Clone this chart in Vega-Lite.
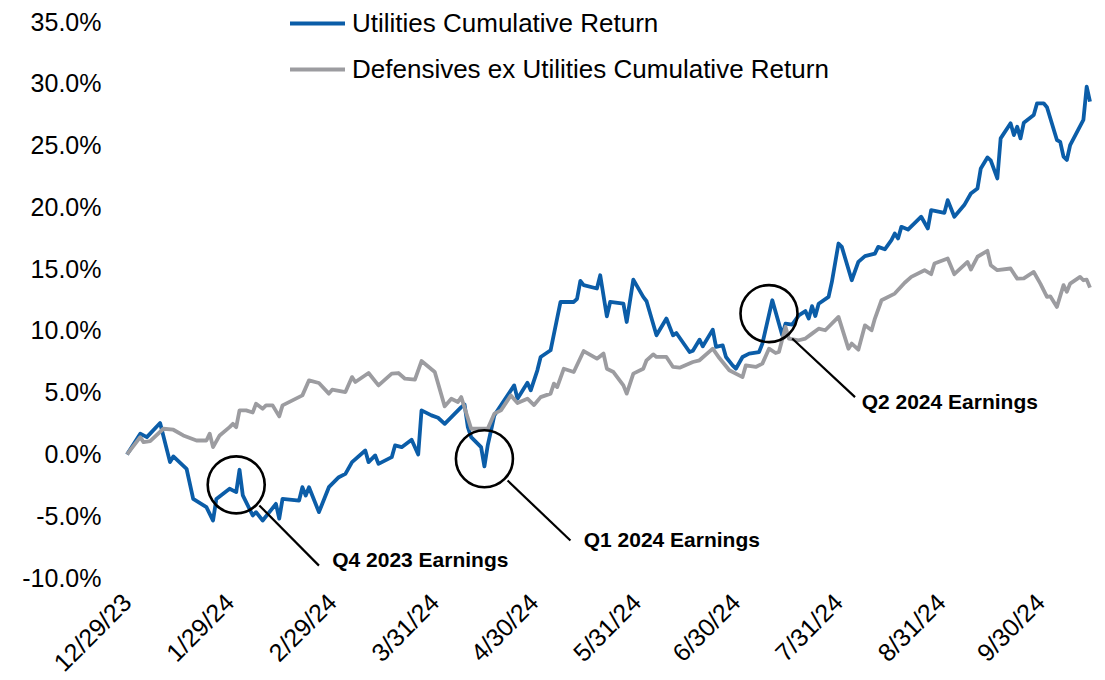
{
  "$schema": "https://vega.github.io/schema/vega-lite/v6.json",
  "width": 963,
  "height": 556,
  "autosize": "none",
  "padding": {"left": 127, "top": 22, "right": 15, "bottom": 102},
  "background": "white",
  "config": {
    "view": {"stroke": null},
    "font": "Liberation Sans"
  },
  "datasets": {
    "utilities": [
      {"date": "2023-12-29", "value": 0},
      {"date": "2024-01-02", "value": 1.68},
      {"date": "2024-01-04", "value": 1.4},
      {"date": "2024-01-08", "value": 2.54},
      {"date": "2024-01-11", "value": -0.62},
      {"date": "2024-01-12", "value": -0.16},
      {"date": "2024-01-16", "value": -1.16},
      {"date": "2024-01-18", "value": -3.6},
      {"date": "2024-01-22", "value": -4.27},
      {"date": "2024-01-24", "value": -5.35},
      {"date": "2024-01-25", "value": -3.6},
      {"date": "2024-01-29", "value": -2.78},
      {"date": "2024-01-31", "value": -3.05},
      {"date": "2024-02-01", "value": -1.24},
      {"date": "2024-02-02", "value": -3.32},
      {"date": "2024-02-05", "value": -4.94},
      {"date": "2024-02-06", "value": -4.67},
      {"date": "2024-02-08", "value": -5.35},
      {"date": "2024-02-12", "value": -4.0},
      {"date": "2024-02-13", "value": -5.2},
      {"date": "2024-02-14", "value": -3.6},
      {"date": "2024-02-19", "value": -3.73},
      {"date": "2024-02-20", "value": -2.65},
      {"date": "2024-02-21", "value": -3.32},
      {"date": "2024-02-22", "value": -2.65},
      {"date": "2024-02-25", "value": -4.67},
      {"date": "2024-02-28", "value": -2.65},
      {"date": "2024-03-02", "value": -1.84},
      {"date": "2024-03-04", "value": -1.57},
      {"date": "2024-03-06", "value": -0.62},
      {"date": "2024-03-10", "value": 0.32},
      {"date": "2024-03-11", "value": -0.62},
      {"date": "2024-03-13", "value": -0.08},
      {"date": "2024-03-14", "value": -0.76},
      {"date": "2024-03-18", "value": -0.22},
      {"date": "2024-03-19", "value": 0.73},
      {"date": "2024-03-21", "value": 0.59},
      {"date": "2024-03-24", "value": 1.19},
      {"date": "2024-03-26", "value": 0.0},
      {"date": "2024-03-27", "value": 3.57},
      {"date": "2024-03-30", "value": 3.16},
      {"date": "2024-04-01", "value": 2.97},
      {"date": "2024-04-03", "value": 2.48},
      {"date": "2024-04-08", "value": 3.83},
      {"date": "2024-04-09", "value": 4.05},
      {"date": "2024-04-10", "value": 2.21},
      {"date": "2024-04-11", "value": 1.4},
      {"date": "2024-04-14", "value": 0.59},
      {"date": "2024-04-15", "value": -0.97},
      {"date": "2024-04-16", "value": 0.73},
      {"date": "2024-04-17", "value": 1.94},
      {"date": "2024-04-18", "value": 3.16},
      {"date": "2024-04-20", "value": 3.97},
      {"date": "2024-04-24", "value": 5.59},
      {"date": "2024-04-25", "value": 4.51},
      {"date": "2024-04-28", "value": 5.8},
      {"date": "2024-04-29", "value": 5.19},
      {"date": "2024-05-01", "value": 6.81},
      {"date": "2024-05-02", "value": 7.89},
      {"date": "2024-05-05", "value": 8.43},
      {"date": "2024-05-08", "value": 12.34},
      {"date": "2024-05-12", "value": 12.34},
      {"date": "2024-05-13", "value": 12.6},
      {"date": "2024-05-14", "value": 14.04},
      {"date": "2024-05-15", "value": 13.7},
      {"date": "2024-05-19", "value": 13.43},
      {"date": "2024-05-20", "value": 14.5},
      {"date": "2024-05-22", "value": 11.18},
      {"date": "2024-05-23", "value": 12.34},
      {"date": "2024-05-27", "value": 12.2},
      {"date": "2024-05-28", "value": 10.72},
      {"date": "2024-05-30", "value": 14.15},
      {"date": "2024-06-02", "value": 12.75},
      {"date": "2024-06-03", "value": 12.4},
      {"date": "2024-06-06", "value": 9.64},
      {"date": "2024-06-09", "value": 11.0},
      {"date": "2024-06-11", "value": 9.64},
      {"date": "2024-06-12", "value": 9.83},
      {"date": "2024-06-16", "value": 8.29},
      {"date": "2024-06-17", "value": 8.4},
      {"date": "2024-06-19", "value": 9.29},
      {"date": "2024-06-20", "value": 8.75},
      {"date": "2024-06-23", "value": 10.1},
      {"date": "2024-06-24", "value": 8.7},
      {"date": "2024-06-26", "value": 8.83},
      {"date": "2024-06-27", "value": 7.89},
      {"date": "2024-06-29", "value": 7.21},
      {"date": "2024-06-30", "value": 6.94},
      {"date": "2024-07-02", "value": 7.89},
      {"date": "2024-07-04", "value": 8.16},
      {"date": "2024-07-07", "value": 8.29},
      {"date": "2024-07-08", "value": 8.97},
      {"date": "2024-07-11", "value": 12.48},
      {"date": "2024-07-14", "value": 9.64},
      {"date": "2024-07-15", "value": 10.59},
      {"date": "2024-07-17", "value": 10.5},
      {"date": "2024-07-19", "value": 11.26},
      {"date": "2024-07-21", "value": 11.6},
      {"date": "2024-07-22", "value": 11.0},
      {"date": "2024-07-23", "value": 12.0},
      {"date": "2024-07-24", "value": 11.2},
      {"date": "2024-07-25", "value": 12.2},
      {"date": "2024-07-28", "value": 12.75},
      {"date": "2024-07-29", "value": 13.96},
      {"date": "2024-07-31", "value": 17.07},
      {"date": "2024-08-01", "value": 16.8},
      {"date": "2024-08-04", "value": 14.1},
      {"date": "2024-08-06", "value": 15.58},
      {"date": "2024-08-08", "value": 16.05},
      {"date": "2024-08-11", "value": 16.26},
      {"date": "2024-08-12", "value": 16.8},
      {"date": "2024-08-14", "value": 16.6},
      {"date": "2024-08-16", "value": 17.34},
      {"date": "2024-08-17", "value": 17.88},
      {"date": "2024-08-18", "value": 17.48},
      {"date": "2024-08-19", "value": 18.42},
      {"date": "2024-08-21", "value": 18.2},
      {"date": "2024-08-25", "value": 19.24},
      {"date": "2024-08-27", "value": 18.29},
      {"date": "2024-08-28", "value": 19.77},
      {"date": "2024-09-01", "value": 19.56},
      {"date": "2024-09-02", "value": 20.58},
      {"date": "2024-09-04", "value": 19.24},
      {"date": "2024-09-07", "value": 20.18},
      {"date": "2024-09-09", "value": 21.12},
      {"date": "2024-09-11", "value": 21.53},
      {"date": "2024-09-12", "value": 23.15},
      {"date": "2024-09-14", "value": 24.04},
      {"date": "2024-09-15", "value": 23.8},
      {"date": "2024-09-17", "value": 22.34},
      {"date": "2024-09-18", "value": 25.58},
      {"date": "2024-09-21", "value": 26.8},
      {"date": "2024-09-22", "value": 25.85},
      {"date": "2024-09-23", "value": 26.52},
      {"date": "2024-09-24", "value": 25.58},
      {"date": "2024-09-25", "value": 26.85},
      {"date": "2024-09-28", "value": 27.47},
      {"date": "2024-09-29", "value": 28.42},
      {"date": "2024-10-01", "value": 28.42},
      {"date": "2024-10-02", "value": 28.1},
      {"date": "2024-10-05", "value": 25.45},
      {"date": "2024-10-06", "value": 25.3},
      {"date": "2024-10-07", "value": 24.1},
      {"date": "2024-10-08", "value": 23.83},
      {"date": "2024-10-09", "value": 25.04},
      {"date": "2024-10-13", "value": 27.07},
      {"date": "2024-10-14", "value": 29.77},
      {"date": "2024-10-15", "value": 28.55}
    ],
    "defensives": [
      {"date": "2023-12-29", "value": 0},
      {"date": "2024-01-02", "value": 1.4},
      {"date": "2024-01-03", "value": 1.0},
      {"date": "2024-01-05", "value": 1.08},
      {"date": "2024-01-09", "value": 2.08},
      {"date": "2024-01-12", "value": 2.0},
      {"date": "2024-01-15", "value": 1.54},
      {"date": "2024-01-19", "value": 1.13},
      {"date": "2024-01-22", "value": 1.13},
      {"date": "2024-01-23", "value": 1.68},
      {"date": "2024-01-24", "value": 0.59},
      {"date": "2024-01-26", "value": 1.54},
      {"date": "2024-01-29", "value": 2.21},
      {"date": "2024-01-30", "value": 2.48},
      {"date": "2024-01-31", "value": 2.21},
      {"date": "2024-02-01", "value": 3.57},
      {"date": "2024-02-03", "value": 3.57},
      {"date": "2024-02-05", "value": 3.4},
      {"date": "2024-02-06", "value": 4.11},
      {"date": "2024-02-08", "value": 3.7},
      {"date": "2024-02-09", "value": 3.97},
      {"date": "2024-02-11", "value": 3.97},
      {"date": "2024-02-13", "value": 3.08},
      {"date": "2024-02-14", "value": 3.97},
      {"date": "2024-02-17", "value": 4.38},
      {"date": "2024-02-20", "value": 4.78},
      {"date": "2024-02-22", "value": 6.0},
      {"date": "2024-02-25", "value": 5.78},
      {"date": "2024-02-28", "value": 4.92},
      {"date": "2024-02-29", "value": 5.24},
      {"date": "2024-03-04", "value": 5.05},
      {"date": "2024-03-06", "value": 6.26},
      {"date": "2024-03-07", "value": 5.86},
      {"date": "2024-03-11", "value": 6.59},
      {"date": "2024-03-14", "value": 5.59},
      {"date": "2024-03-18", "value": 6.54},
      {"date": "2024-03-20", "value": 6.59},
      {"date": "2024-03-22", "value": 6.13},
      {"date": "2024-03-25", "value": 6.05},
      {"date": "2024-03-27", "value": 7.56},
      {"date": "2024-03-31", "value": 6.67},
      {"date": "2024-04-03", "value": 3.89},
      {"date": "2024-04-05", "value": 4.51},
      {"date": "2024-04-07", "value": 4.24},
      {"date": "2024-04-08", "value": 4.64},
      {"date": "2024-04-11", "value": 2.08},
      {"date": "2024-04-16", "value": 2.08},
      {"date": "2024-04-18", "value": 3.3},
      {"date": "2024-04-20", "value": 3.57},
      {"date": "2024-04-23", "value": 4.78},
      {"date": "2024-04-25", "value": 4.16},
      {"date": "2024-04-28", "value": 4.51},
      {"date": "2024-04-30", "value": 4.0},
      {"date": "2024-05-02", "value": 4.64},
      {"date": "2024-05-05", "value": 4.92},
      {"date": "2024-05-06", "value": 5.73},
      {"date": "2024-05-07", "value": 5.45},
      {"date": "2024-05-09", "value": 6.94},
      {"date": "2024-05-12", "value": 6.67},
      {"date": "2024-05-15", "value": 8.37},
      {"date": "2024-05-19", "value": 7.75},
      {"date": "2024-05-21", "value": 8.16},
      {"date": "2024-05-22", "value": 6.94},
      {"date": "2024-05-24", "value": 6.67},
      {"date": "2024-05-27", "value": 5.59},
      {"date": "2024-05-28", "value": 4.92},
      {"date": "2024-05-30", "value": 6.54},
      {"date": "2024-06-02", "value": 6.94},
      {"date": "2024-06-03", "value": 7.62},
      {"date": "2024-06-05", "value": 8.1},
      {"date": "2024-06-06", "value": 7.89},
      {"date": "2024-06-09", "value": 7.89},
      {"date": "2024-06-11", "value": 7.08},
      {"date": "2024-06-13", "value": 7.02},
      {"date": "2024-06-17", "value": 7.48},
      {"date": "2024-06-19", "value": 7.62},
      {"date": "2024-06-23", "value": 8.56},
      {"date": "2024-06-25", "value": 7.8},
      {"date": "2024-06-28", "value": 6.81},
      {"date": "2024-07-02", "value": 6.26},
      {"date": "2024-07-03", "value": 7.21},
      {"date": "2024-07-06", "value": 7.08},
      {"date": "2024-07-08", "value": 7.35},
      {"date": "2024-07-10", "value": 8.56},
      {"date": "2024-07-12", "value": 8.21},
      {"date": "2024-07-13", "value": 8.29},
      {"date": "2024-07-15", "value": 10.32},
      {"date": "2024-07-16", "value": 9.38},
      {"date": "2024-07-19", "value": 9.24},
      {"date": "2024-07-21", "value": 9.38},
      {"date": "2024-07-23", "value": 9.78},
      {"date": "2024-07-25", "value": 10.18},
      {"date": "2024-07-27", "value": 10.05},
      {"date": "2024-07-31", "value": 11.13},
      {"date": "2024-08-03", "value": 8.56},
      {"date": "2024-08-04", "value": 8.97},
      {"date": "2024-08-06", "value": 8.48},
      {"date": "2024-08-08", "value": 10.45},
      {"date": "2024-08-10", "value": 10.05},
      {"date": "2024-08-11", "value": 11.0},
      {"date": "2024-08-13", "value": 12.48},
      {"date": "2024-08-17", "value": 13.02},
      {"date": "2024-08-20", "value": 13.9},
      {"date": "2024-08-22", "value": 14.37},
      {"date": "2024-08-26", "value": 14.91},
      {"date": "2024-08-28", "value": 14.59},
      {"date": "2024-08-29", "value": 15.45},
      {"date": "2024-09-02", "value": 15.86},
      {"date": "2024-09-04", "value": 14.59},
      {"date": "2024-09-08", "value": 15.58},
      {"date": "2024-09-09", "value": 14.96},
      {"date": "2024-09-11", "value": 16.0},
      {"date": "2024-09-14", "value": 16.48},
      {"date": "2024-09-15", "value": 15.32},
      {"date": "2024-09-17", "value": 14.91},
      {"date": "2024-09-21", "value": 15.05},
      {"date": "2024-09-23", "value": 14.23},
      {"date": "2024-09-25", "value": 14.25},
      {"date": "2024-09-28", "value": 14.77},
      {"date": "2024-09-30", "value": 13.83},
      {"date": "2024-10-02", "value": 12.75},
      {"date": "2024-10-03", "value": 12.8},
      {"date": "2024-10-05", "value": 11.94},
      {"date": "2024-10-07", "value": 13.7},
      {"date": "2024-10-08", "value": 13.16},
      {"date": "2024-10-09", "value": 13.83},
      {"date": "2024-10-12", "value": 14.37},
      {"date": "2024-10-13", "value": 14.1},
      {"date": "2024-10-14", "value": 14.15},
      {"date": "2024-10-15", "value": 13.5}
    ],
    "circles": [
      {"event": "Q4 2023", "date": "2024-01-31", "value": -2.46},
      {"event": "Q1 2024", "date": "2024-04-15", "value": -0.35},
      {"event": "Q2 2024", "date": "2024-07-10", "value": 11.4}
    ],
    "leaders": [
      {"event": "Q4 2023", "date": "2024-02-07", "value": -4.13},
      {"event": "Q4 2023", "date": "2024-02-25", "value": -9.0},
      {"event": "Q1 2024", "date": "2024-04-22", "value": -2.11},
      {"event": "Q1 2024", "date": "2024-05-11", "value": -6.97},
      {"event": "Q2 2024", "date": "2024-07-17", "value": 9.38},
      {"event": "Q2 2024", "date": "2024-08-05", "value": 4.64}
    ],
    "labels": [
      {"label": "Q4 2023 Earnings", "date": "2024-02-29", "value": -8.59},
      {"label": "Q1 2024 Earnings", "date": "2024-05-15", "value": -6.97},
      {"label": "Q2 2024 Earnings", "date": "2024-08-07", "value": 4.13}
    ]
  },
  "encoding": {
    "x": {
      "field": "date",
      "type": "temporal",
      "scale": {
        "type": "utc",
        "domain": [
          {"year": 2023, "month": 12, "date": 29, "utc": true},
          {"year": 2024, "month": 10, "date": 15, "utc": true}
        ],
        "nice": false
      },
      "axis": {
        "title": null,
        "values": [
          {"year": 2023, "month": 12, "date": 29, "utc": true},
          {"year": 2024, "month": 1, "date": 29, "utc": true},
          {"year": 2024, "month": 2, "date": 29, "utc": true},
          {"year": 2024, "month": 3, "date": 31, "utc": true},
          {"year": 2024, "month": 4, "date": 30, "utc": true},
          {"year": 2024, "month": 5, "date": 31, "utc": true},
          {"year": 2024, "month": 6, "date": 30, "utc": true},
          {"year": 2024, "month": 7, "date": 31, "utc": true},
          {"year": 2024, "month": 8, "date": 31, "utc": true},
          {"year": 2024, "month": 9, "date": 30, "utc": true}
        ],
        "labelExpr": "utcFormat(datum.value, '%-m/%-d/%y')",
        "labelAngle": -45,
        "labelAlign": "right",
        "labelBaseline": "middle",
        "labelPadding": 20,
        "labelFont": "Liberation Sans",
        "labelFontSize": 25,
        "labelColor": "#000000",
        "labelOverlap": false,
        "labelFlush": false,
        "domain": false,
        "ticks": false,
        "grid": false
      }
    },
    "y": {
      "field": "value",
      "type": "quantitative",
      "scale": {"domain": [-10, 35], "nice": false, "zero": false},
      "axis": {
        "title": null,
        "values": [-10, -5, 0, 5, 10, 15, 20, 25, 30, 35],
        "labelExpr": "(datum.value < 0 ? '-' : '') + format(abs(datum.value), '.1f') + '%'",
        "labelFont": "Liberation Sans",
        "labelFontSize": 25,
        "labelColor": "#000000",
        "labelPadding": 26,
        "domain": false,
        "ticks": false,
        "grid": false
      }
    }
  },
  "layer": [
    {
      "mark": {"type": "rule", "color": "#000000", "strokeWidth": 1.3},
      "encoding": {"x": null, "y": {"datum": 0, "type": "quantitative"}}
    },
    {
      "data": {"name": "utilities"},
      "mark": {"type": "line", "strokeWidth": 3.8, "strokeJoin": "round"},
      "encoding": {
        "color": {
          "datum": "Utilities Cumulative Return",
          "type": "nominal",
          "scale": {
            "domain": ["Utilities Cumulative Return", "Defensives ex Utilities Cumulative Return"],
            "range": ["#0B5DA8", "#9C9CA0"]
          },
          "legend": {
            "title": null,
            "orient": "none",
            "legendX": 161,
            "legendY": -28,
            "direction": "vertical",
            "symbolType": "stroke",
            "symbolSize": 3025,
            "symbolStrokeWidth": 4,
            "labelFont": "Liberation Sans",
            "labelFontSize": 26,
            "labelColor": "#000000",
            "labelOffset": 5,
            "rowPadding": 3,
            "padding": 0,
            "labelLimit": 0
          }
        }
      }
    },
    {
      "data": {"name": "defensives"},
      "mark": {"type": "line", "strokeWidth": 3.8, "strokeJoin": "round"},
      "encoding": {
        "color": {"datum": "Defensives ex Utilities Cumulative Return", "type": "nominal"}
      }
    },
    {
      "data": {"name": "circles"},
      "mark": {"type": "point", "shape": "circle", "filled": false, "size": 3249, "stroke": "#000000", "strokeWidth": 2.6, "opacity": 1}
    },
    {
      "data": {"name": "leaders"},
      "mark": {"type": "line", "color": "#000000", "strokeWidth": 2.2},
      "encoding": {"detail": {"field": "event", "type": "nominal"}}
    },
    {
      "data": {"name": "labels"},
      "mark": {"type": "text", "align": "left", "baseline": "middle", "font": "Liberation Sans", "fontWeight": "bold", "fontSize": 21, "color": "#000000"},
      "encoding": {"text": {"field": "label", "type": "nominal"}}
    }
  ]
}
